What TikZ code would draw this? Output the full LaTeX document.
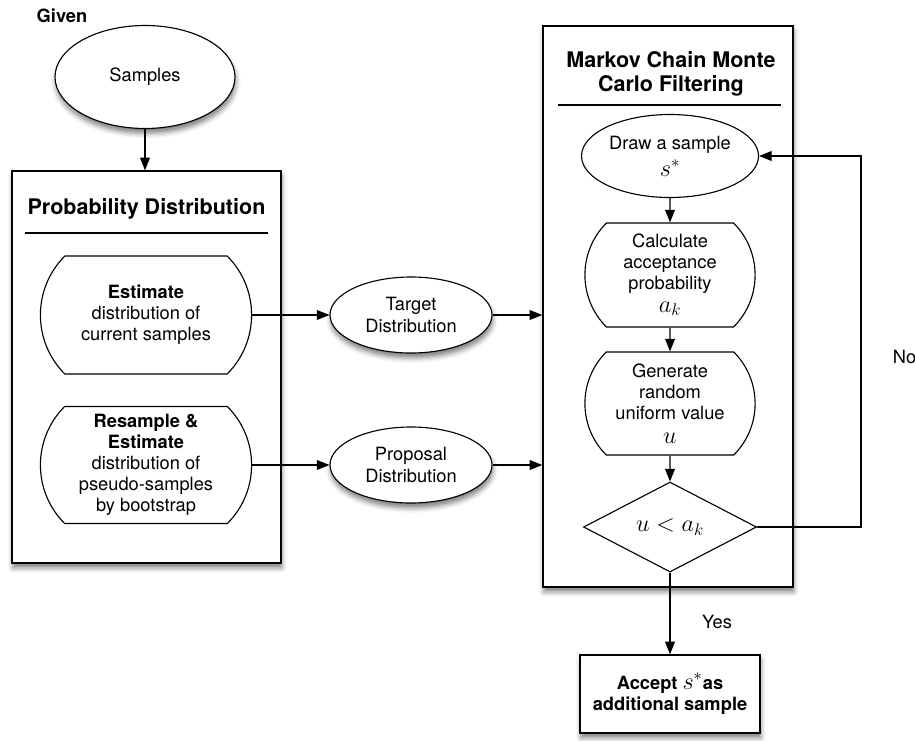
\documentclass[tikz,border=0pt]{standalone}
\usepackage{fontspec}
\setmainfont{TeX Gyre Heros}
\usepackage{tikz}
\usetikzlibrary{arrows.meta, shapes.geometric, shapes.misc, shadows.blur}
\newcommand{\largemath}[1]{{\fontsize{17}{15}\selectfont$#1$}}

\begin{document}
\begin{tikzpicture}[
    every node/.style={font=\fontsize{13}{15}\selectfont, align=center},
    softshadow/.style={blur shadow={shadow xshift=0.6pt, shadow yshift=-3.5pt, shadow blur radius=3.5pt, shadow opacity=50}},
    panel/.style={rectangle, draw, line width=1pt, fill=white, softshadow},
    paneltitle/.style={font=\fontsize{15.3}{17}\selectfont\bfseries},
    oval/.style={ellipse, draw, line width=0.8pt, fill=white, inner sep=1pt},
    terminal/.style={rounded rectangle, rounded rectangle arc length=90, draw, line width=0.8pt, fill=white, inner sep=1pt},
    decision/.style={diamond, aspect=1.9, draw, line width=0.8pt, fill=white, inner sep=0pt},
    result/.style={rectangle, draw, line width=1pt, fill=white, softshadow},
    arrow/.style={line width=0.8pt, -{Triangle[length=9pt, width=7pt]}},
]
\useasboundingbox (0,0) rectangle (22.875,-18.5);
% input
\node[font=\fontsize{13}{15}\selectfont\bfseries] (given) at (1.55,-0.4) {Given};
\node[oval, softshadow, minimum width=4.5cm, minimum height=2.575cm] (samples) at (3.625,-1.925) {Samples};
% probability distribution
\node[panel, minimum width=6.725cm, minimum height=9.8cm] (prob) at (3.6625,-9.175) {};
\node[paneltitle] (probtitle) at (3.6625,-5.225) {Probability Distribution};
\draw[line width=0.8pt] (0.625,-5.825) -- (6.7,-5.825);
\node[terminal, minimum width=5.35cm, minimum height=2.95cm] (estimate) at (3.65,-7.875) {\textbf{Estimate}\\distribution of\\current samples};
\node[terminal, minimum width=5.35cm, minimum height=2.925cm] (resample) at (3.65,-11.625) {\textbf{Resample \&}\\\textbf{Estimate}\\distribution of\\pseudo-samples\\by bootstrap};
\node[oval, softshadow, minimum width=4.05cm, minimum height=1.9cm] (target) at (10.275,-7.875) {Target\\Distribution};
\node[oval, softshadow, minimum width=4.05cm, minimum height=1.9cm] (proposal) at (10.275,-11.625) {Proposal\\Distribution};
% MCMC filtering
\node[panel, minimum width=6.25cm, minimum height=14.025cm] (mcmc) at (16.7,-7.6625) {};
\node[paneltitle] (mcmctitle) at (16.775,-1.85) {Markov Chain Monte\\Carlo Filtering};
\draw[line width=0.8pt] (13.95,-2.625) -- (19.525,-2.625);
\node[oval, minimum width=4.425cm, minimum height=2.075cm] (drawsample) at (16.75,-3.9) {Draw a sample\\[4pt]\largemath{s^*}};
\node[terminal, minimum width=4.325cm, minimum height=2.6cm] (accprob) at (16.75,-6.875) {Calculate\\acceptance\\probability\\[1pt]\largemath{a_k}};
\node[terminal, minimum width=4.325cm, minimum height=2.575cm] (uniform) at (16.75,-10.0875) {Generate\\random\\uniform value\\[2pt]\largemath{u}};
\node[decision, minimum width=4.325cm, minimum height=2.25cm] (test) at (16.75,-13.175) {\largemath{u < a_k}};
\node[result, minimum width=4.5cm, minimum height=1.95cm, font=\fontsize{13}{15}\selectfont\bfseries] (accept) at (16.75,-17.35) {Accept \largemath{s^*}as\\additional sample};
\coordinate (loop) at (21.525,-3.9);
\node[anchor=west] (no) at (22.2,-8.925) {No};
\node (yes) at (17.925,-15.55) {Yes};
% connectors
\draw[arrow] (samples.south) -- (samples.south |- prob.north);
\draw[arrow] (estimate.east) -- (target.west);
\draw[arrow] (resample.east) -- (proposal.west);
\draw[arrow] (target.east) -- (target.east -| mcmc.west);
\draw[arrow] (proposal.east) -- (proposal.east -| mcmc.west);
\draw[arrow] (drawsample) -- (accprob);
\draw[arrow] (accprob) -- (uniform);
\draw[arrow] (uniform) -- (test);
\draw[arrow] (test) -- (accept);
\draw[arrow] (test.east) -| (loop) -- (drawsample.east);
\end{tikzpicture}
\end{document}
